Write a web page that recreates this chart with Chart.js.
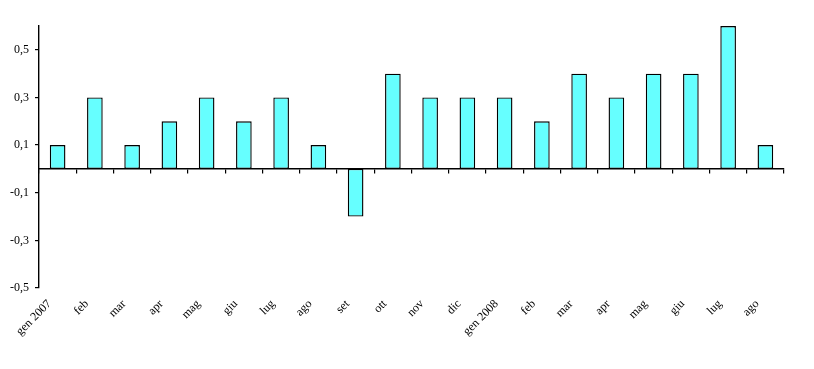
<!DOCTYPE html>
<html>
<head>
<meta charset="utf-8">
<script src="https://cdn.jsdelivr.net/npm/chart.js@4/dist/chart.umd.min.js"></script>
<style>
html,body{margin:0;padding:0;background:#fff;}
#wrap{width:814px;height:369px;}
</style>
</head>
<body>
<div id="wrap"><canvas id="c" width="814" height="369"></canvas></div>
<script>
const categories = ["gen 2007","feb","mar","apr","mag","giu","lug","ago","set","ott","nov","dic","gen 2008","feb","mar","apr","mag","giu","lug","ago"];
const values = [0.1,0.3,0.1,0.2,0.3,0.2,0.3,0.1,-0.2,0.4,0.3,0.3,0.3,0.2,0.4,0.3,0.4,0.4,0.6,0.1];
const yTickValues = [-0.5,-0.3,-0.1,0.1,0.3,0.5];

const font = {family: "'Liberation Serif', 'Times New Roman', serif", size: 12};

new Chart(document.getElementById('c'), {
  type: 'bar',
  data: {
    labels: categories,
    datasets: [{
      data: values,
      backgroundColor: '#66FFFF',
      borderColor: '#000000',
      borderWidth: 1.4,
      borderSkipped: false,
      inflateAmount: 0,
      categoryPercentage: 1,
      barPercentage: 0.42,
      xAxisID: 'x',
      yAxisID: 'y'
    }]
  },
  options: {
    responsive: false,
    animation: false,
    devicePixelRatio: 1,
    layout: {padding: {top: 26, right: 30, left: 0, bottom: 0}},
    plugins: {legend: {display: false}, tooltip: {enabled: false}},
    scales: {
      x: {
        type: 'category',
        position: {y: 0},
        offset: true,
        grid: {offset: true, drawOnChartArea: false, drawTicks: true, tickLength: 4, color: '#000', lineWidth: 1.2},
        border: {color: '#000', width: 1.4},
        ticks: {display: false}
      },
      x2: {
        type: 'category',
        position: 'bottom',
        offset: true,
        labels: categories,
        grid: {display: false, drawTicks: false},
        border: {display: false},
        ticks: {
          autoSkip: false,
          minRotation: 45,
          maxRotation: 45,
          padding: 9,
          labelOffset: -8,
          color: '#000',
          font: font
        },
        afterFit: s => { s.height = 81; }
      },
      y: {
        min: -0.5,
        max: 0.6,
        position: 'left',
        grid: {drawOnChartArea: false, drawTicks: true, tickLength: 4, color: '#000', lineWidth: 1.2},
        border: {color: '#000', width: 1.4},
        afterBuildTicks: s => { s.ticks = yTickValues.map(v => ({value: v})); },
        ticks: {
          padding: 6,
          color: '#000',
          font: font,
          callback: v => String(v).replace('.', ',')
        },
        afterFit: s => { s.width = 39; }
      }
    }
  }
});
</script>
</body>
</html>
